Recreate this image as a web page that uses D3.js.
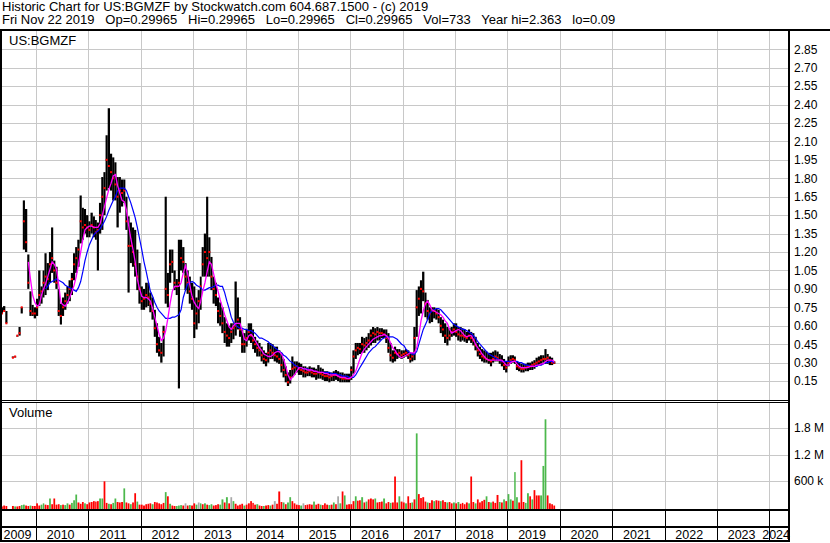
<!DOCTYPE html>
<html>
<head>
<meta charset="utf-8">
<script src="https://cdn.jsdelivr.net/npm/d3@7"></script>
<style>
  body { margin: 0; background: #fff; }
  svg { display: block; }
  text { font-family: "Liberation Sans", Arial, sans-serif; fill: #000; }
</style>
</head>
<body>
<div id="chart"></div>
<script>
const title1 = "Historic Chart for US:BGMZF by Stockwatch.com 604.687.1500 - (c) 2019";
const title2 = "Fri Nov 22 2019   Op=0.29965   Hi=0.29965   Lo=0.29965   Cl=0.29965   Vol=733   Year hi=2.363   lo=0.09";
const symbol = "US:BGMZF";

const priceTicks = [0.15, 0.30, 0.45, 0.60, 0.75, 0.90, 1.05, 1.20, 1.35, 1.50, 1.65, 1.80, 1.95, 2.10, 2.25, 2.40, 2.55, 2.70, 2.85];
const volTicks = [600000, 1200000, 1800000];
const volTickLabels = ["600 k", "1.2 M", "1.8 M"];
const years = [2009, 2010, 2011, 2012, 2013, 2014, 2015, 2016, 2017, 2018, 2019, 2020, 2021, 2022, 2023, 2024];

// half-month periods (1st and 16th) starting May 2009, one row per year
const firstMonth = new Date(2009, 4, 1);

const highs = [
  .75,.76,.72,null,null,.35,.35,.52,.59,.75,1.62,1.55,1.18,.88,.77,.75,
  .82,1.05,.92,1.05,1.19,1.11,1.20,1.40,1.13,1.08,.90,.78,.83,.87,.92,.97,1.03,1.19,1.24,1.30,1.66,1.56,1.55,1.50,
  1.45,1.52,1.49,1.46,1.44,1.60,1.81,1.85,2.15,2.37,2.00,1.97,1.93,1.81,1.81,1.79,1.79,1.65,1.49,1.44,1.40,1.38,1.22,1.11,
  .92,.90,.95,.95,.87,.83,.73,.62,.51,.46,.60,1.65,1.03,1.22,1.22,1.05,.98,1.30,1.30,1.24,1.11,1.05,1.00,.95,
  .92,.83,.89,1.00,1.24,1.35,1.65,1.32,1.16,1.00,.95,.83,.79,.75,.67,.62,.60,.62,.62,.96,.83,.67,.57,.54,
  .57,.62,.62,.57,.51,.48,.46,.43,.40,.38,.46,.46,.45,.43,.43,.40,.38,.33,.27,.22,.24,.35,.31,.31,
  .30,.29,.27,.27,.26,.27,.26,.26,.25,.28,.26,.25,.23,.23,.22,.22,.23,.24,.23,.22,.22,.21,.21,.21,
  .27,.40,.46,.46,.46,.51,.50,.51,.54,.57,.59,.58,.59,.58,.58,.57,.57,.54,.46,.40,.43,.41,.41,.40,
  .40,.41,.40,.38,.38,.59,.89,.92,.97,1.04,.87,.81,.75,.75,.75,.74,.73,.67,.65,.62,.59,.58,.59,.62,
  .62,.59,.59,.58,.57,.55,.57,.55,.54,.51,.46,.43,.41,.40,.39,.38,.38,.39,.40,.39,.37,.36,.33,.31,
  .35,.36,.36,.35,.31,.30,.29,.29,.29,.30,.30,.31,.32,.34,.35,.36,.36,.41,.37,.35,.34,.31
];
const lows = [
  .70,.72,.62,null,null,.34,.35,.52,.52,.70,1.22,1.20,.90,.68,.68,.66,
  .68,.76,.78,.83,.85,.89,.95,1.03,.95,.90,.68,.61,.68,.73,.78,.80,.85,.97,1.03,1.08,1.27,1.30,1.35,1.32,
  1.32,1.35,1.32,1.30,1.05,1.35,1.38,1.50,1.70,1.72,1.70,1.62,1.62,1.40,1.52,1.57,1.60,1.38,.87,1.11,1.08,1.00,.89,.78,
  .73,.73,.75,.76,.71,.65,.51,.38,.35,.30,.35,.78,.75,.95,1.03,.89,.85,.09,1.05,1.03,.89,.86,.78,.73,
  .50,.57,.62,.73,1.00,1.00,1.00,1.00,.89,.78,.76,.62,.60,.54,.46,.43,.43,.46,.49,.52,.57,.51,.38,.38,
  .43,.48,.46,.41,.38,.35,.35,.31,.29,.27,.30,.33,.33,.31,.30,.29,.22,.18,.14,.11,.13,.18,.20,.22,
  .20,.20,.18,.18,.19,.19,.18,.18,.16,.17,.17,.16,.15,.15,.14,.15,.15,.16,.15,.14,.14,.14,.14,.14,
  .16,.21,.33,.36,.37,.38,.38,.40,.42,.44,.46,.46,.48,.48,.50,.50,.46,.38,.31,.30,.31,.33,.34,.33,
  .34,.35,.33,.30,.31,.32,.51,.68,.70,.80,.67,.65,.62,.63,.66,.65,.62,.54,.51,.46,.44,.48,.51,.52,
  .51,.48,.47,.48,.47,.46,.48,.46,.44,.40,.35,.33,.31,.30,.30,.29,.27,.30,.31,.31,.29,.27,.24,.22,
  .27,.29,.30,.29,.24,.23,.22,.22,.23,.23,.24,.24,.25,.27,.28,.28,.30,.29,.29,.28,.28,.29
];
const closes = [
  .70,.72,.62,null,null,.34,.35,.52,.54,.75,1.45,1.28,.95,.72,.70,.70,
  .75,.85,.88,.95,1.00,.98,1.10,1.15,1.05,.95,.72,.68,.75,.80,.85,.90,.98,1.10,1.15,1.22,1.45,1.40,1.42,1.40,
  1.38,1.42,1.40,1.36,1.38,1.50,1.65,1.72,1.95,1.90,1.85,1.80,1.75,1.65,1.70,1.68,1.70,1.45,1.25,1.25,1.20,1.10,1.00,.90,
  .80,.82,.85,.83,.78,.72,.58,.45,.40,.38,.55,.90,.85,1.10,1.12,.95,.92,.95,1.15,1.12,1.00,.95,.88,.82,
  .62,.70,.80,.92,1.10,1.20,1.15,1.20,1.00,.90,.85,.72,.68,.62,.55,.52,.50,.55,.58,.60,.65,.57,.45,.45,
  .50,.55,.52,.48,.45,.42,.40,.36,.33,.32,.38,.40,.38,.36,.35,.33,.28,.24,.20,.14,.18,.25,.26,.27,
  .25,.24,.23,.22,.22,.23,.22,.21,.21,.22,.21,.20,.19,.19,.18,.19,.20,.20,.19,.18,.17,.17,.17,.17,
  .24,.35,.40,.42,.41,.45,.44,.46,.48,.52,.54,.53,.55,.54,.54,.53,.50,.42,.36,.34,.38,.37,.38,.36,
  .37,.38,.36,.33,.35,.50,.75,.82,.90,.88,.78,.72,.70,.72,.72,.70,.67,.60,.57,.52,.50,.52,.55,.57,
  .55,.53,.52,.52,.51,.50,.52,.50,.48,.44,.40,.37,.35,.34,.33,.32,.31,.33,.35,.34,.32,.31,.28,.26,
  .30,.32,.33,.32,.27,.26,.25,.25,.26,.27,.27,.28,.29,.30,.31,.32,.33,.33,.34,.32,.30,.30
];
// magenta (short) and blue (long) average lines
const maShort = [
  null,null,null,null,null,null,null,null,null,null,null,null,1.12,.98,.85,.79,
  .76,.77,.85,.90,.94,1.00,1.06,1.12,1.10,1.06,.93,.79,.77,.76,.79,.83,.88,.93,1.00,1.10,1.20,1.30,1.38,1.40,
  1.41,1.41,1.40,1.40,1.40,1.43,1.50,1.57,1.64,1.71,1.76,1.82,1.83,1.74,1.68,1.62,1.61,1.54,1.42,1.31,1.22,1.12,.98,.90,
  .84,.83,.83,.82,.80,.74,.67,.60,.53,.48,.50,.56,.66,.78,.88,.92,.92,.92,.95,1.03,1.09,1.02,.93,.84,
  .79,.76,.74,.80,.88,.95,1.04,1.12,1.10,1.02,.94,.88,.81,.75,.69,.64,.59,.57,.60,.62,.62,.62,.56,.49,
  .48,.52,.53,.51,.48,.45,.42,.40,.37,.36,.35,.35,.36,.38,.39,.39,.37,.33,.27,.20,.16,.18,.20,.23,
  .26,.26,.25,.25,.24,.24,.24,.23,.23,.22,.22,.22,.21,.21,.20,.20,.20,.20,.19,.18,.18,.18,.17,.17,
  .18,.20,.23,.28,.33,.38,.41,.43,.45,.47,.49,.50,.51,.52,.52,.53,.52,.50,.46,.42,.40,.37,.35,.34,
  .35,.36,.37,.38,.38,.38,.42,.52,.64,.72,.78,.80,.77,.73,.72,.71,.70,.69,.67,.64,.62,.57,.54,.55,
  .56,.57,.56,.54,.52,.51,.52,.52,.49,.45,.42,.40,.37,.35,.33,.32,.32,.32,.32,.32,.32,.32,.30,.28,
  .28,.30,.31,.31,.29,.27,.26,.26,.26,.26,.27,.27,.27,.28,.28,.29,.29,.31,.32,.32,.32,.31
];
const maLong = [
  null,null,null,null,null,null,null,null,null,null,null,null,null,null,null,null,
  null,null,null,null,.90,.92,.95,.96,.97,.98,.97,.96,.95,.93,.92,.91,.90,.89,.88,.91,.96,1.04,1.13,1.20,
  1.26,1.30,1.34,1.36,1.37,1.39,1.42,1.45,1.49,1.54,1.58,1.62,1.65,1.70,1.72,1.72,1.72,1.70,1.65,1.60,1.54,1.48,1.40,1.31,
  1.22,1.12,1.04,.96,.88,.84,.79,.75,.72,.70,.68,.66,.66,.66,.67,.67,.68,.69,.73,.83,.89,.94,.95,.96,
  .95,.93,.92,.91,.89,.89,.90,.91,.91,.92,.93,.93,.92,.92,.87,.80,.74,.67,.63,.61,.59,.58,.58,.57,
  .57,.56,.56,.55,.54,.52,.50,.50,.49,.48,.47,.45,.44,.42,.41,.39,.38,.36,.35,.33,.31,.30,.28,.27,
  .26,.26,.25,.25,.25,.24,.24,.23,.23,.22,.22,.22,.22,.22,.22,.21,.21,.21,.20,.20,.19,.19,.19,.18,
  .18,.18,.20,.23,.26,.29,.32,.35,.38,.40,.42,.43,.45,.47,.49,.50,.51,.51,.51,.51,.50,.49,.47,.45,
  .44,.41,.39,.38,.37,.37,.39,.45,.51,.57,.61,.65,.70,.72,.73,.74,.74,.73,.71,.69,.67,.65,.63,.61,
  .60,.59,.58,.57,.57,.56,.55,.54,.52,.50,.47,.45,.43,.41,.39,.37,.36,.35,.34,.33,.32,.31,.31,.31,
  .31,.31,.31,.31,.31,.30,.30,.29,.28,.28,.27,.27,.27,.27,.28,.28,.29,.30,.30,.31,.31,.30
];
// peak volume in each half month, thousands of shares
const volumes = [
  20,40,30,0,0,30,20,20,30,50,60,40,30,40,30,30,
  90,40,60,90,60,50,200,70,200,60,70,50,60,50,90,60,100,160,290,110,80,120,90,70,
  110,120,140,130,140,200,200,590,100,80,70,100,200,120,110,120,430,110,90,70,110,320,130,60,
  60,40,70,80,90,70,120,110,90,70,100,345,250,80,40,30,30,40,50,40,90,40,50,40,
  90,60,110,90,70,90,60,50,70,40,50,70,60,180,110,230,90,230,140,80,40,60,80,40,
  60,90,140,100,60,70,40,30,30,40,50,40,60,140,80,360,120,110,70,110,230,140,90,60,
  50,40,90,50,60,70,60,130,60,80,60,50,90,60,50,60,110,70,250,90,360,270,60,70,
  70,140,250,150,160,230,110,130,180,200,180,200,110,120,130,200,90,120,100,110,700,110,250,130,
  110,90,250,100,110,180,1680,300,210,230,130,110,100,160,140,160,150,140,160,120,110,120,90,110,
  90,120,80,100,70,110,90,700,120,90,180,110,140,170,250,120,110,130,100,280,120,110,180,140,
  300,180,150,800,230,110,1070,120,100,320,250,180,390,270,270,270,940,2000,270,90,70,40
];
// r = down, g = up, n = unchanged
const volDirs = [
  "rrrnnrgrrggrrgrr",
  "rrggrrgrrrrgrggrgggrrrgr",
  "rrrrrggrrgrggrrrgrrgrrgr",
  "rrrrrgrrrrrgrgrrgggrnrgr",
  "rgngrgrggrrrggrgrngrrrrg",
  "rrrrrgrrgrrgrnrrrgrggrrr",
  "rgnrrrrgrrgrrrgrgrngrgrr",
  "rrgrrgrgrrrgrrrgrrgrrrgr",
  "rgrrgrgrrrrgrrgrrgrrgrrg",
  "rgrrrrgrrgrrrrgrgrrrgrgr",
  "ggrggrrrggrgrrrgggrrrr"
].join("").split("");

const volColor = { r: "#ff0000", g: "#4cb84c", n: "#a8a8a8" };
const gridColor = "#c8c8c8";

const W = 830, H = 543;
const plotL = 2, plotR = 788;
const priceTop = 31, priceBot = 400;
const volTop = 403, volBot = 509;

const svg = d3.select("#chart").append("svg").attr("width", W).attr("height", H);

const x = d3.scaleTime()
  .domain([new Date(2010, 0, 1), new Date(2024, 0, 1)])
  .range([36, 769.3]);
const y = d3.scaleLinear().domain([0, 3]).range([399.5, 30.8]);
const yv = d3.scaleLinear().domain([0, 2400000]).range([507.3, 401.7]);

const dates = highs.map((_, i) => new Date(2009, 4 + Math.floor(i / 2), i % 2 ? 16 : 1));
const nextDate = i => dates[i + 1] || new Date(2019, 11, 1);

const rows = dates.map((d, i) => ({
  d, i,
  x0: x(d), x1: x(nextDate(i)),
  hi: highs[i], lo: lows[i], cl: closes[i],
  s: maShort[i], l: maLong[i],
  v: volumes[i] * 1000, dir: volDirs[i]
}));

// clip paths
const defs = svg.append("defs");
defs.append("clipPath").attr("id", "clipP").append("rect")
  .attr("x", plotL).attr("y", priceTop).attr("width", plotR - plotL).attr("height", priceBot - priceTop);
defs.append("clipPath").attr("id", "clipV").append("rect")
  .attr("x", plotL).attr("y", volTop).attr("width", plotR - plotL).attr("height", volBot - volTop);

// header
svg.append("text").attr("x", 2).attr("y", 10.5).attr("font-size", 13).text(title1);
svg.append("text").attr("x", 2).attr("y", 24).attr("font-size", 13).attr("xml:space", "preserve")
  .style("white-space", "pre").text(title2);

// grid
const yearStarts = years.slice(1).map(yr => new Date(yr, 0, 1));
const grid = svg.append("g").attr("shape-rendering", "crispEdges").attr("stroke", gridColor);
grid.selectAll(".hp").data(priceTicks).join("line")
  .attr("x1", plotL).attr("x2", plotR)
  .attr("y1", d => Math.round(y(d)) + 0.5).attr("y2", d => Math.round(y(d)) + 0.5);
grid.selectAll(".hv").data(volTicks).join("line")
  .attr("x1", plotL).attr("x2", plotR)
  .attr("y1", d => Math.round(yv(d)) + 0.5).attr("y2", d => Math.round(yv(d)) + 0.5);
grid.selectAll(".vp").data(yearStarts).join("line")
  .attr("x1", d => Math.round(x(d)) + 0.5).attr("x2", d => Math.round(x(d)) + 0.5)
  .attr("y1", priceTop).attr("y2", priceBot);
grid.selectAll(".vv").data(yearStarts).join("line")
  .attr("x1", d => Math.round(x(d)) + 0.5).attr("x2", d => Math.round(x(d)) + 0.5)
  .attr("y1", volTop).attr("y2", volBot);

// price bars
const price = svg.append("g").attr("clip-path", "url(#clipP)");
const valid = rows.filter(r => r.hi != null);
price.selectAll(".bar").data(valid).join("rect")
  .attr("x", r => r.x0)
  .attr("width", r => Math.max(1, r.x1 - r.x0))
  .attr("y", r => y(r.hi))
  .attr("height", r => Math.max(1, y(r.lo) - y(r.hi)))
  .attr("fill", "#000");
price.selectAll(".cl").data(valid).join("rect")
  .attr("x", r => (r.x0 + r.x1) / 2 - 1)
  .attr("y", r => y(r.cl) - 1)
  .attr("width", 2).attr("height", 2)
  .attr("fill", "#ff0000");

const mid = r => (r.x0 + r.x1) / 2;
const lineS = d3.line().defined(r => r.s != null).x(mid).y(r => y(r.s));
const lineL = d3.line().defined(r => r.l != null).x(mid).y(r => y(r.l));
price.append("path").datum(rows).attr("d", lineL)
  .attr("fill", "none").attr("stroke", "#0000ff").attr("stroke-width", 1.2);
price.append("path").datum(rows).attr("d", lineS)
  .attr("fill", "none").attr("stroke", "#ff00ff").attr("stroke-width", 1.3);

// volume bars
const vol = svg.append("g").attr("clip-path", "url(#clipV)");
vol.selectAll("rect").data(rows.filter(r => r.v > 0)).join("rect")
  .attr("x", r => r.x0 + 0.2)
  .attr("width", r => Math.max(1, r.x1 - r.x0 - 0.4))
  .attr("y", r => yv(r.v))
  .attr("height", r => volBot - yv(r.v))
  .attr("fill", r => volColor[r.dir]);

// frame lines
const frame = svg.append("g").attr("fill", "#000").attr("shape-rendering", "crispEdges");
frame.append("rect").attr("x", 0).attr("y", 29).attr("width", W).attr("height", 2);
frame.append("rect").attr("x", 0).attr("y", 29).attr("width", 2).attr("height", 513);
frame.append("rect").attr("x", plotR).attr("y", 29).attr("width", 2).attr("height", 513);
frame.append("rect").attr("x", 0).attr("y", 400).attr("width", plotR).attr("height", 1);
frame.append("rect").attr("x", 0).attr("y", 402).attr("width", plotR).attr("height", 1);
frame.append("rect").attr("x", 0).attr("y", 509).attr("width", plotR).attr("height", 2);
frame.append("rect").attr("x", 0).attr("y", 526).attr("width", plotR).attr("height", 2);
frame.append("rect").attr("x", 0).attr("y", 540).attr("width", plotR + 2).attr("height", 2);
frame.selectAll(".tk").data(yearStarts).join("rect")
  .attr("x", d => Math.round(x(d))).attr("y", 511).attr("width", 1).attr("height", 29);

// panel labels
svg.append("text").attr("x", 9).attr("y", 45).attr("font-size", 13).text(symbol);
svg.append("text").attr("x", 9).attr("y", 417).attr("font-size", 13).text("Volume");

// right axes
const axP = svg.append("g").attr("transform", `translate(${plotR + 1},0)`)
  .call(d3.axisRight(y).tickValues(priceTicks).tickFormat(d3.format(".2f")).tickSize(0).tickPadding(5));
const axV = svg.append("g").attr("transform", `translate(${plotR + 1},0)`)
  .call(d3.axisRight(yv).tickValues(volTicks).tickFormat((d, i) => volTickLabels[i]).tickSize(0).tickPadding(5));
[axP, axV].forEach(g => {
  g.select(".domain").remove();
  g.selectAll("text").attr("font-size", 12).attr("fill", "#000")
    .style("font-family", '"Liberation Sans", Arial, sans-serif');
});

// year labels
const yl = svg.append("g");
years.forEach(yr => {
  const a = Math.max(x(new Date(yr, 0, 1)), plotL);
  const b = Math.min(x(new Date(yr + 1, 0, 1)), plotR);
  const t = yl.append("text").attr("y", 538.5).attr("font-size", 12.5).text(yr);
  const w = t.node().getComputedTextLength();
  let cx = (a + b) / 2 - 1.5;
  if (cx + w / 2 > plotR + 2) cx = plotR + 2 - w / 2;
  if (cx - w / 2 < plotL) cx = plotL + w / 2;
  t.attr("x", cx).attr("text-anchor", "middle");
});
</script>
</body>
</html>
